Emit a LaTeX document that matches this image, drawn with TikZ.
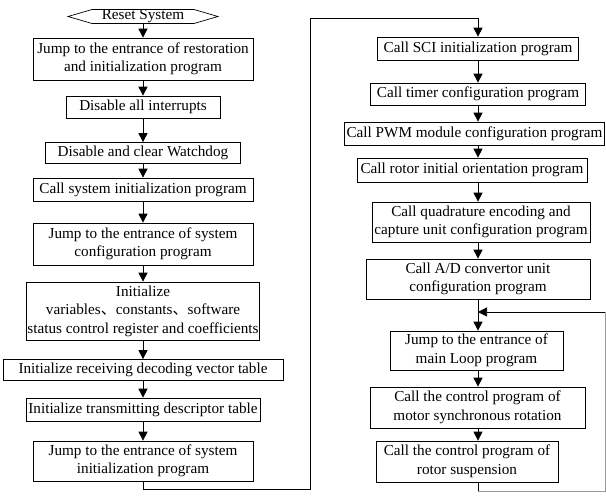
\documentclass[tikz,border=0pt]{standalone}
\usepackage{fontspec}
\setmainfont{Liberation Serif}
\newfontfamily\cjk{Noto Sans CJK SC}
\usetikzlibrary{arrows.meta}
\begin{document}
\begin{tikzpicture}[x=1pt,y=-1pt,
  font=\fontsize{15.2}{18.5}\selectfont,
  box/.style={draw,line width=0.7pt,inner sep=0pt,align=center},
  flow/.style={line width=0.7pt,-{Triangle[width=9pt,length=9pt]}},
  wire/.style={line width=0.7pt},
  grey/.style={line width=0.7pt,draw=black!40}]
\useasboundingbox (0,0) rectangle (606,499);
% left column
\draw[wire] (68,16.5) -- (92,9.5) -- (194,9.5) -- (218,16.5) -- (194,23.5) -- (92,23.5) -- cycle;
\node[inner sep=0pt] (reset) at (143,16.5) {Reset System};
\coordinate (resetb) at (143,23.5);
\node[box,minimum width=220pt,minimum height=42pt] (b1) at (143,59) {Jump to the entrance of restoration\\and initialization program};
\node[box,minimum width=154pt,minimum height=22pt] (b2) at (143,107) {Disable all interrupts};
\node[box,minimum width=195pt,minimum height=21pt] (b3) at (143,153) {Disable and clear Watchdog};
\node[box,minimum width=220pt,minimum height=23pt] (b4) at (143,189.5) {Call system initialization program};
\node[box,minimum width=220pt,minimum height=42pt] (b5) at (143,244) {Jump to the entrance of\ system\\configuration program};
\node[box,minimum width=233pt,minimum height=58pt] (b6) at (143,311) {Initialize\\variables{\cjk 、}constants{\cjk 、}software\\status control register and coefficients};
\node[box,minimum width=280pt,minimum height=21pt] (b7) at (143,370) {Initialize receiving decoding vector table};
\node[box,minimum width=234pt,minimum height=23pt] (b8) at (143,409.5) {Initialize transmitting descriptor table};
\node[box,minimum width=220pt,minimum height=40pt] (b9) at (143,461) {Jump to the entrance of system\\initialization program};
% right column
\node[box,minimum width=201pt,minimum height=23pt] (r1) at (478,48.5) {Call SCI initialization program};
\node[box,minimum width=215pt,minimum height=22pt] (r2) at (478,94) {Call timer configuration program};
\node[box,minimum width=260pt,minimum height=23pt] (r3) at (474.5,133.5) {Call PWM module configuration program};
\node[box,minimum width=230pt,minimum height=24pt] (r4) at (472,170) {Call rotor initial orientation program};
\node[box,minimum width=218pt,minimum height=40pt] (r5) at (481,222) {Call quadrature encoding and\\capture unit configuration program};
\node[box,minimum width=224pt,minimum height=40pt] (r6) at (478,279) {Call A/D convertor unit\\configuration program};
\node[box,minimum width=173pt,minimum height=39pt] (r7) at (476.5,350.5) {Jump to the entrance of\\main Loop program};
\node[box,minimum width=215pt,minimum height=41pt] (r8) at (477.5,407.5) {Call the control program of\\motor synchronous rotation};
\node[box,minimum width=182pt,minimum height=41pt] (r9) at (467,461.5) {Call the control program of\\rotor suspension};
% coordinates
\coordinate (l1) at (143,489);
\coordinate (l2) at (310,489);
\coordinate (l3) at (310,18);
\coordinate (l4) at (478,18);
\coordinate (m) at (478,312);
\coordinate (c1) at (478,491);
\coordinate (c2) at (605,491);
\coordinate (c3) at (605,312);
% left arrows
\draw[flow] (resetb) -- (b1.north);
\draw[flow] (b1.south) -- (b2.north);
\draw[flow] (b2.south) -- (b3.north);
\draw[flow] (b3.south) -- (b4.north);
\draw[flow] (b4.south) -- (b5.north);
\draw[flow] (b5.south) -- (b6.north);
\draw[flow] (b6.south) -- (b7.north);
\draw[flow] (b7.south) -- (b8.north);
\draw[flow] (b8.south) -- (b9.north);
% connection to right column
\draw[wire] (b9.south) -- (l1) -- (l2) -- (l3) -- (l4);
\draw[flow] (l4) -- (l4 |- r1.north);
% right arrows
\draw[flow] (478,0 |- r1.south) -- (478,0 |- r2.north);
\draw[flow] (478,0 |- r2.south) -- (478,0 |- r3.north);
\draw[flow] (478,0 |- r3.south) -- (478,0 |- r4.north);
\draw[flow] (478,0 |- r4.south) -- (478,0 |- r5.north);
\draw[flow] (478,0 |- r5.south) -- (478,0 |- r6.north);
\draw[wire] (478,0 |- r6.south) -- (m);
\draw[flow] (m) -- (478,0 |- r7.north);
\draw[flow] (478,0 |- r7.south) -- (478,0 |- r8.north);
\draw[flow] (478,0 |- r8.south) -- (478,0 |- r9.north);
% loop back
\draw[wire] (478,0 |- r9.south) -- (c1);
\draw[grey] (c1) -- (c2) -- (c3);
\draw[flow] (c3) -- (m);
\end{tikzpicture}
\end{document}
